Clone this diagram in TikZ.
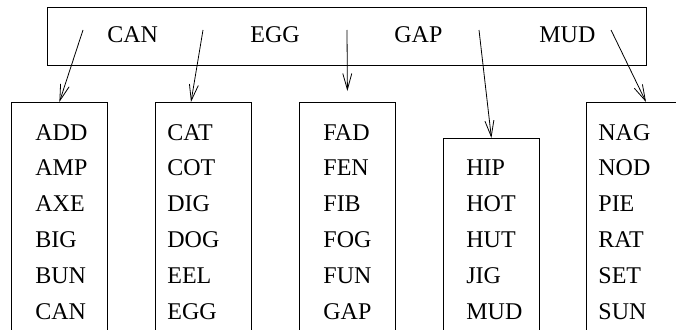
\documentclass[tikz,border=0pt]{standalone}
\usepackage{fontspec}
\setmainfont{Liberation Serif}
\usetikzlibrary{arrows.meta}

\begin{document}
\begin{tikzpicture}[x=1pt,y=-1pt,line width=0.8pt,>={Straight Barb[length=16pt,width=9pt]},
        box/.style={draw,inner sep=0pt,anchor=north west},
        key/.style={anchor=base west,inner sep=0pt,font=\fontsize{24}{29}\selectfont}]
            \useasboundingbox (0,0) rectangle (676,329);

            % the root with its keys
            \node[box,minimum width=599pt,minimum height=58pt] (root) at (47,7) {};
            \node[key] (kCAN) at (107,43) {CAN};
            \node[key] (kEGG) at (250,43) {EGG};
            \node[key] (kGAP) at (394,43) {GAP};
            \node[key] (kMUD) at (539,43) {MUD};

            % the leaves, open at the bottom
            \node[box,minimum width=96pt,minimum height=260pt] (leaf1) at (11,102) {};
            \node[box,minimum width=96pt,minimum height=260pt] (leaf2) at (155,102) {};
            \node[box,minimum width=96pt,minimum height=260pt] (leaf3) at (299,102) {};
            \node[box,minimum width=96pt,minimum height=260pt] (leaf4) at (443,138) {};
            \node[box,minimum width=96pt,minimum height=260pt] (leaf5) at (586,102) {};

            % words in the leaves
            \foreach \w [count=\r] in {ADD,AMP,AXE,BIG,BUN,CAN}
                \node[key] (a\w) at (35,104.2+35.8*\r) {\w};
            \foreach \w [count=\r] in {CAT,COT,DIG,DOG,EEL,EGG}
                \node[key] (b\w) at (167,104.2+35.8*\r) {\w};
            \foreach \w [count=\r] in {FAD,FEN,FIB,FOG,FUN,GAP}
                \node[key] (c\w) at (323,104.2+35.8*\r) {\w};
            \foreach \w [count=\r from 2] in {HIP,HOT,HUT,JIG,MUD}
                \node[key] (d\w) at (466,104.2+35.8*\r) {\w};
            \foreach \w [count=\r] in {NAG,NOD,PIE,RAT,SET,SUN}
                \node[key] (e\w) at (598,104.2+35.8*\r) {\w};

            % pointers
            \coordinate (p0) at (83,30);
            \coordinate (p1) at (203,30);
            \coordinate (p2) at (347,30);
            \coordinate (p3) at (479,30);
            \coordinate (p4) at (611,30);
            \draw[->] (p0) -- (leaf1.north);
            \draw[->] (p1) -- ([xshift=36pt]leaf2.north west);
            \draw[->] (p2) -- ([yshift=11pt]leaf3.north);
            \draw[->] (p3) -- (leaf4.north);
            \draw[->] (p4) -- ([xshift=60pt]leaf5.north west);
        \end{tikzpicture}
\end{document}
